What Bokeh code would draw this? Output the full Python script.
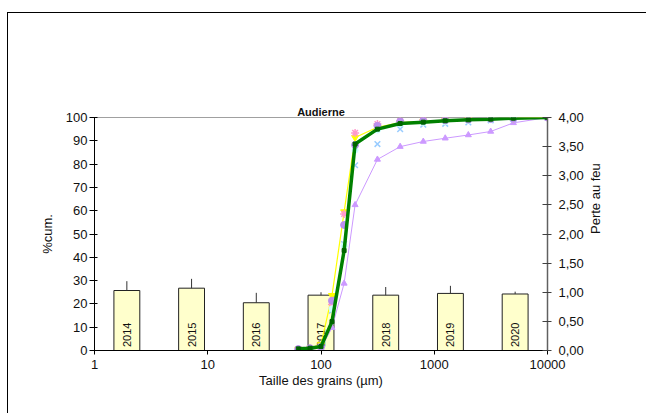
import math

from bokeh.plotting import figure
from bokeh.models import (Range1d, LinearAxis, FixedTicker, NumeralTickFormatter,
                          CustomJSTickFormatter)
from bokeh.core.properties import value
from bokeh.embed import file_html
from bokeh.resources import INLINE

# Loss on ignition per year (right axis, bars with upper error)
years = ["2014", "2015", "2016", "2017", "2018", "2019", "2020"]
pf = [1.03, 1.07, 0.82, 0.95, 0.95, 0.98, 0.97]
pf_err = [0.16, 0.16, 0.17, 0.05, 0.14, 0.13, 0.04]

# Cumulative grain-size curves (left axis, %)
sizes = [63, 80, 100, 125, 160, 200, 315, 500, 800, 1250, 2000, 3150, 5000, 10000]
cum_green = [0.7, 1.0, 1.7, 12.4, 42.9, 88.6, 95.0, 97.4, 98.0, 98.6, 99.0, 99.3, 99.7, 100]
cum_yellow = [0.6, 1.0, 2.5, 23.6, 59.5, 91.4, 95.8, 97.8, 98.4, 98.8, 99.2, 99.5, 99.7, 100]
cum_pink = [0.5, 0.8, 1.5, 19.7, 58.6, 93.4, 97.2, 98.4, 98.8, 99.1, 99.4, 99.6, 99.8, 100]
cum_purple = [0.6, 1.0, 1.6, 21.4, 53.9, 88.2, 96.4, 98.3, 98.6, 98.8, 99.1, 99.4, 99.6, 100]
cum_blue = [0.4, 0.7, 1.3, 17.1, 45.7, 79.5, 88.6, 95.0, 96.9, 97.3, 97.9, 98.8, 99.3, 100]
cum_cyan = [0.5, 0.9, 1.4, 17.9, 45.0, 86.0, 94.6, 97.2, 97.9, 98.2, 98.7, 99.1, 99.5, 100]
cum_lavender = [0.4, 0.6, 0.9, 9.8, 28.8, 62.5, 82.0, 87.5, 89.7, 91.1, 92.5, 94.0, 97.7, 100]

x_ticks = [1, 10, 100, 1000, 10000]
left_ticks = list(range(0, 101, 10))
right_ticks = [0, 0.5, 1.0, 1.5, 2.0, 2.5, 3.0, 3.5, 4.0]

FONT = "Liberation Sans"
X_MIN, X_MAX = 1, 10000

p = figure(width=639, height=401, x_axis_type="log",
           x_range=Range1d(X_MIN, X_MAX), y_range=Range1d(0, 100),
           output_backend="svg", toolbar_location=None,
           min_border_left=86, min_border_right=100,
           min_border_top=104, min_border_bottom=64)
p.styles = {"margin-left": "7px", "margin-top": "12px",
            "border-left": "1px solid #000", "border-top": "1px solid #000"}
p.grid.visible = False
p.outline_line_color = "#A0A0A0"
p.background_fill_color = "white"
p.border_fill_color = "white"

p.title.text = "Audierne"
p.title.align = "center"
p.title.text_font = FONT
p.title.text_font_size = "11px"
p.title.text_font_style = "bold"
p.title.text_color = "#111111"
p.title.standoff = 0

# grab the default axes before any extra ones are added
xa = p.below[0]
ya = p.left[0]

# invisible top axis used only as a spacer, lifting the title clear of the frame
spacer = LinearAxis(ticker=FixedTicker(ticks=[]), axis_line_color=None,
                    major_tick_line_color=None, minor_tick_line_color=None,
                    major_tick_out=78, major_tick_in=0,
                    major_label_standoff=0, axis_label_standoff=0)
p.add_layout(spacer, "above")

p.extra_y_ranges = {"pf": Range1d(0, 4)}

# The yearly bars sit on evenly spaced category slots across the log axis:
# slot i covers [i, i+1] * (span / n) decades in log10 space.
n = len(years)
span = 4.0  # decades between X_MIN and X_MAX


def slot(i, frac):
    return X_MIN * 10 ** ((i + frac) * span / n)


bar_left = [slot(i, 0.3) for i in range(n)]
bar_right = [slot(i, 0.7) for i in range(n)]
bar_mid = [slot(i, 0.5) for i in range(n)]

p.quad(left=bar_left, right=bar_right, bottom=0, top=pf, y_range_name="pf",
       fill_color="#FFFFCC", line_color="#222222", line_width=1)
err_top = [v + e for v, e in zip(pf, pf_err)]
p.segment(x0=bar_mid, y0=pf, x1=bar_mid, y1=err_top, y_range_name="pf",
          line_color="#333333", line_width=1)
p.text(x=bar_mid, y=[0.06] * n, text=years, y_range_name="pf",
       angle=1.5708, text_align="left", text_baseline="middle",
       text_font=value(FONT), text_font_size="11px", text_color="#111111")

# cumulative curves
p.line(sizes, cum_lavender, line_color="#CC99FF", line_width=1)
p.scatter(sizes, cum_lavender, marker="triangle", size=6, fill_color="#CC99FF",
          line_color="#CC99FF")
p.line(sizes, cum_yellow, line_color="#FFFF00", line_width=1.2)
p.scatter(sizes, cum_yellow, marker="inverted_triangle", size=7,
          fill_color="#FFFF00", line_color="#FFFF00")
p.scatter(sizes, cum_pink, marker="asterisk", size=8, line_color="#FF99CC",
          line_width=1.5)
p.scatter(sizes, cum_blue, marker="x", size=8, line_color="#99CCFF", line_width=1.5)
p.scatter(sizes, cum_cyan, marker="circle", size=6, fill_color="#CCFFFF",
          line_color="#CCFFFF")
p.scatter(sizes, cum_purple, marker="circle", size=7, fill_color="#BB8FEF",
          line_color="#BB8FEF")
p.line(sizes, cum_green, line_color="#008000", line_width=3.5)
p.scatter(sizes, cum_green, marker="square", size=4, fill_color="#006400",
          line_color="#006400")

# axes
xa.ticker = FixedTicker(ticks=x_ticks)
xa.formatter = NumeralTickFormatter(format="0")
xa.axis_label = "Taille des grains (µm)"
xa.minor_tick_line_color = None
xa.major_tick_out = 4
xa.major_tick_in = 0
xa.major_label_standoff = 5
xa.axis_label_standoff = 1

ya.ticker = FixedTicker(ticks=left_ticks)
ya.axis_label = "%cum."
ya.minor_tick_line_color = None
ya.major_tick_out = 5
ya.major_tick_in = 3
ya.major_label_standoff = 2
ya.axis_label_standoff = 8

ra = LinearAxis(y_range_name="pf", axis_label="Perte au feu",
                ticker=FixedTicker(ticks=right_ticks),
                formatter=CustomJSTickFormatter(
                    code="return tick.toFixed(2).replace('.', ',');"))
ra.minor_tick_line_color = None
ra.major_tick_out = 4
ra.major_tick_in = 5
ra.major_label_standoff = 7
ra.axis_label_standoff = 9
ra.axis_label_orientation = math.pi / 2
ra.axis_line_color = "#606060"
ra.axis_line_width = 1.5
ra.major_tick_line_color = "#404040"
p.add_layout(ra, "right")

for ax in (xa, ya, ra):
    ax.major_label_text_font = FONT
    ax.major_label_text_font_size = "13px"
    ax.major_label_text_color = "#111111"
    ax.axis_label_text_font = FONT
    ax.axis_label_text_font_size = "13px"
    ax.axis_label_text_font_style = "normal"
    ax.axis_label_text_color = "#111111"
xa.axis_line_color = "black"
ya.axis_line_color = "black"

open("out.html", "w").write(file_html(p, INLINE))
